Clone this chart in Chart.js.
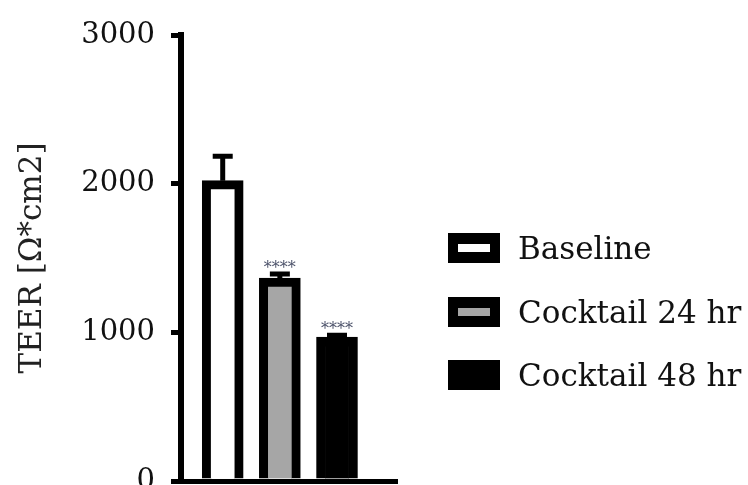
<!DOCTYPE html>
<html lang="en">
<head>
  <meta charset="UTF-8">
  <title>TEER</title>
  <script src="https://cdn.jsdelivr.net/npm/chart.js"></script>
  <style>
    body {
      margin: 0;
      background: #fff;
      font-family: "DejaVu Serif", serif;
    }
    #wrap {
      position: relative;
      width: 748px;
      height: 485px;
      overflow: hidden;
    }
    #legend {
      position: absolute;
      left: 448px;
      top: 233px;
    }
    .row {
      display: flex;
      align-items: center;
      height: 30px;
      margin-bottom: 33.5px;
    }
    .box {
      width: 52px;
      height: 30px;
      box-sizing: border-box;
      border: 10px solid #000;
      border-top-width: 11px;
      border-bottom-width: 11px;
    }
    .row span {
      margin-left: 18px;
      font-size: 31px;
      color: #111;
      white-space: nowrap;
    }
  </style>
</head>
<body>
  <div id="wrap">
    <canvas id="teerChart" width="748" height="485"></canvas>
    <div id="legend"></div>
  </div>

  <script>
    // valeurs
    const groups = ['Baseline', 'Cocktail 24 hr', 'Cocktail 48 hr'];
    const teer = [2020, 1365, 968];
    const teerErr = [2185, 1392, 980];   // haut de la barre d'erreur
    const signif = ['', '****', '****'];
    const fills = ['#ffffff', '#a6a6a6', '#000000'];
    const yTicks = [0, 1000, 2000, 3000];

    // barres d'erreur + étoiles
    const errorBars = {
      id: 'errorBars',
      afterDatasetsDraw(chart) {
        const ctx = chart.ctx;
        const y = chart.scales.y;
        const bars = chart.getDatasetMeta(0).data;
        ctx.save();
        ctx.strokeStyle = '#000';
        ctx.lineWidth = 5;
        ctx.textAlign = 'center';
        ctx.textBaseline = 'alphabetic';
        ctx.font = '16px "DejaVu Serif"';
        ctx.fillStyle = '#4a5068';
        bars.forEach((bar, i) => {
          const top = y.getPixelForValue(teerErr[i]);
          ctx.beginPath();
          ctx.moveTo(bar.x, bar.y);
          ctx.lineTo(bar.x, top);
          ctx.moveTo(bar.x - 10, top);
          ctx.lineTo(bar.x + 10, top);
          ctx.stroke();
          if (signif[i]) ctx.fillText(signif[i], bar.x, top - 1);
        });
        ctx.restore();
      }
    };

    const ctx = document.getElementById('teerChart').getContext('2d');
    new Chart(ctx, {
      type: 'bar',
      data: {
        datasets: [{
          data: groups.map((g, i) => ({ x: i, y: teer[i] })),
          backgroundColor: fills,
          borderColor: '#000',
          borderWidth: 9,
          barThickness: 41
        }]
      },
      options: {
        responsive: false,
        animation: false,
        layout: { padding: { top: 35, right: 351, bottom: 4, left: 0 } },
        plugins: {
          legend: { display: false },
          tooltip: { enabled: false }
        },
        scales: {
          x: {
            type: 'linear',
            offset: false,
            min: -0.73,
            max: 3.05,
            ticks: { display: false },
            grid: { display: false, drawTicks: false },
            border: { display: true, color: '#000', width: 5 }
          },
          y: {
            min: 0,
            max: 3000,
            afterBuildTicks: s => { s.ticks = yTicks.map(v => ({ value: v })); },
            ticks: {
              font: { family: 'DejaVu Serif', size: 29 },
              color: '#111',
              padding: 16,
              callback: v => String(v)
            },
            grid: {
              drawOnChartArea: false,
              drawTicks: true,
              tickLength: 10,
              lineWidth: 5,
              color: '#000'
            },
            border: { color: '#000', width: 6 },
            title: {
              display: true,
              text: 'TEER [Ω*cm2]',
              font: { family: 'DejaVu Serif', size: 31 },
              color: '#222',
              padding: { top: 14, bottom: 0 }
            },
            afterFit: s => { s.width = 181; s.paddingTop = 0; s.paddingBottom = 0; }
          }
        }
      },
      plugins: [errorBars]
    });

    // légende HTML
    const legend = document.getElementById('legend');
    groups.forEach((g, i) => {
      const row = document.createElement('div');
      row.className = 'row';
      const box = document.createElement('div');
      box.className = 'box';
      box.style.background = fills[i];
      const txt = document.createElement('span');
      txt.textContent = g;
      row.appendChild(box);
      row.appendChild(txt);
      legend.appendChild(row);
    });
  </script>
</body>
</html>
